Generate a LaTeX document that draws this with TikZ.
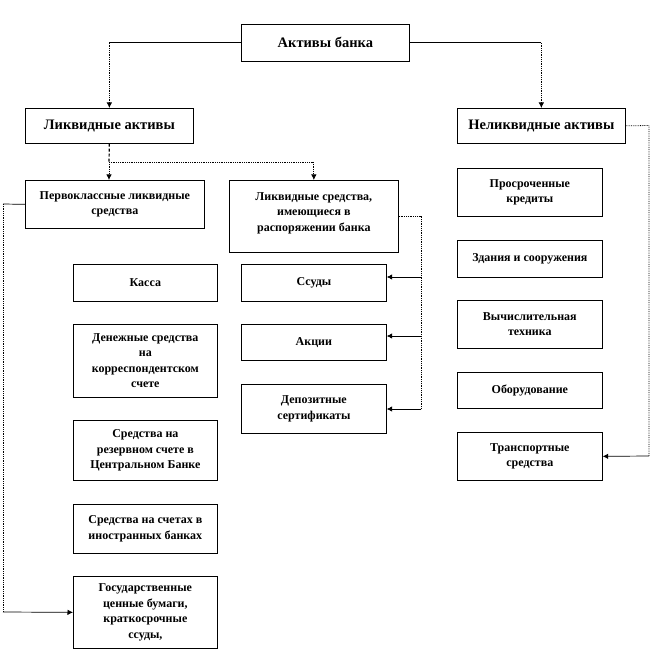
\documentclass[tikz,border=0pt]{standalone}
\usepackage{fontspec}
\setmainfont{Liberation Serif}
\usetikzlibrary{arrows.meta}
\begin{document}
\begin{tikzpicture}[x=1pt,y=-1pt,
  box/.style={draw=black, line width=0.7pt, anchor=north west, align=center, inner sep=2pt,
    font=\bfseries\fontsize{12}{15.5}\selectfont},
  big/.style={font=\bfseries\fontsize{14.5}{17}\selectfont},
  sline/.style={draw=black, line width=0.7pt},
  dline/.style={draw=black, line width=0.8pt, densely dotted},
  thickdash/.style={draw=black, line width=1.2pt, densely dashed},
  arr/.style={-{Latex[length=5.5pt,width=5.5pt]}}
]
\useasboundingbox (0,0) rectangle (650,660);
\fill[white] (0,0) rectangle (650,660);

% top levels
\node[box,big,minimum width=168pt,minimum height=37pt] (top) at (241,24) {Активы банка};
\node[box,big,minimum width=168pt,minimum height=35pt] (liq) at (25,108) {Ликвидные активы};
\node[box,big,minimum width=168pt,minimum height=35pt] (illiq) at (457,108) {Неликвидные активы};

% second level
\node[box,minimum width=179pt,minimum height=48pt] (perv) at (25,180) {Первоклассные ликвидные\\средства};
\node[box,minimum width=169pt,minimum height=72pt] (ls) at (229,180) {Ликвидные средства,\\имеющиеся в\\распоряжении банка\\[-6pt]\mbox{}};

% left column
\node[box,minimum width=144pt,minimum height=37pt] (kassa) at (73,264) {Касса};
\node[box,minimum width=144pt,minimum height=73pt] (den) at (73,324) {Денежные средства\\на\\корреспондентском\\счете};
\node[box,minimum width=144pt,minimum height=60pt] (rez) at (73,420) {Средства на\\резервном счете в\\Центральном Банке};
\node[box,minimum width=144pt,minimum height=49pt] (inos) at (73,504) {Средства на счетах в\\иностранных банках};
\node[box,minimum width=144pt,minimum height=72pt] (gos) at (73,576) {Государственные\\ценные бумаги,\\краткосрочные\\ссуды,};

% middle column
\node[box,minimum width=145pt,minimum height=37pt] (ssudy) at (241,264) {Ссуды};
\node[box,minimum width=145pt,minimum height=36pt] (akcii) at (241,324) {Акции};
\node[box,minimum width=145pt,minimum height=49pt] (dep) at (241,384) {Депозитные\\сертификаты};

% right column
\node[box,minimum width=145pt,minimum height=48pt] (pros) at (457,168) {Просроченные\\кредиты};
\node[box,minimum width=145pt,minimum height=37pt] (zd) at (457,240) {Здания и сооружения};
\node[box,minimum width=145pt,minimum height=48pt] (vych) at (457,300) {Вычислительная\\техника};
\node[box,minimum width=145pt,minimum height=36pt] (obor) at (457,372) {Оборудование};
\node[box,minimum width=145pt,minimum height=48pt] (trans) at (457,432) {Транспортные\\средства};

% connectors from top
\coordinate (tl) at (top.west -| liq.north);
\coordinate (tr) at (top.east -| illiq.north);
\draw[sline] (top.west) -- (tl);
\draw[dline,arr] (tl) -- (liq.north);
\draw[sline] (top.east) -- (tr);
\draw[dline,arr] (tr) -- (illiq.north);

% liquid assets split
\coordinate (sp) at (109,162);
\coordinate (spr) at (ls.north |- sp);
\draw[thickdash] (liq.south) -- (sp);
\draw[dline,arr] (sp) -- (sp |- perv.north);
\draw[dline] (sp) -- (spr);
\draw[dline,arr] (spr) -- (ls.north);

% first-class liquid -> bottom left
\coordinate (pl1) at (3,204);
\coordinate (pl2) at (3,612);
\draw[sline] (perv.west) -- (pl1);
\draw[dline] (pl1) -- (pl2);
\draw[sline,arr] (pl2) -- (gos.west);

% liquid means -> middle column
\coordinate (lr1) at (421,216);
\coordinate (lr2) at (421,409);
\coordinate (r1) at (421,277);
\coordinate (r2) at (421,336);
\draw[dline] (ls.east |- lr1) -- (lr1) -- (lr2);
\draw[sline,arr] (r1) -- (r1 -| ssudy.east);
\draw[sline,arr] (r2) -- (r2 -| akcii.east);
\draw[sline,arr] (lr2) -- (lr2 -| dep.east);

% illiquid -> transport
\coordinate (ir1) at (649,125.5);
\coordinate (ir2) at (649,456);
\draw[dline] (illiq.east) -- (ir1) -- (ir2);
\draw[sline,arr] (ir2) -- (trans.east);
\end{tikzpicture}
\end{document}
